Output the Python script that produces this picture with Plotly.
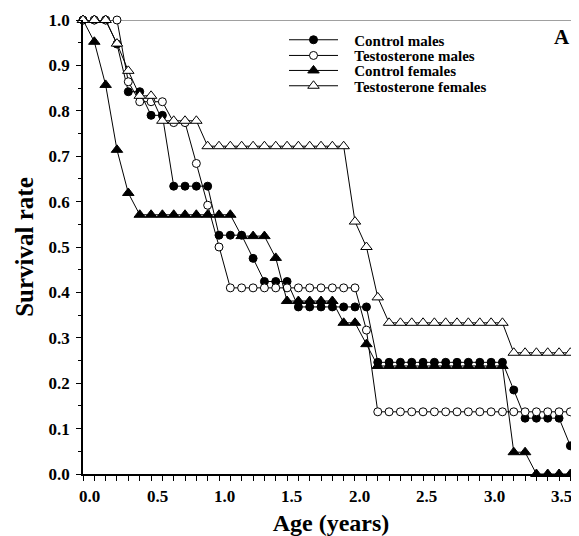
import plotly.graph_objects as go

# Age (years) of each monthly census
ages = [-0.050, 0.034, 0.118, 0.202, 0.286, 0.371, 0.455, 0.539, 0.623, 0.707,
        0.791, 0.875, 0.959, 1.043, 1.127, 1.212, 1.296, 1.380, 1.464, 1.548,
        1.632, 1.716, 1.800, 1.884, 1.968, 2.053, 2.137, 2.221, 2.305, 2.389,
        2.473, 2.557, 2.641, 2.725, 2.809, 2.894, 2.978, 3.062, 3.146, 3.230,
        3.314, 3.398, 3.482, 3.566]

control_males = [1.0, 1.0, 1.0, 0.947, 0.842, 0.842, 0.790, 0.790, 0.634, 0.634,
                 0.634, 0.634, 0.526, 0.526, 0.526, 0.475, 0.424, 0.424, 0.424, 0.368,
                 0.368, 0.368, 0.368, 0.368, 0.368, 0.368, 0.246, 0.246, 0.246, 0.246,
                 0.246, 0.246, 0.246, 0.246, 0.246, 0.246, 0.246, 0.246, 0.185, 0.123,
                 0.123, 0.123, 0.123, 0.062]

testosterone_males = [1.0, 1.0, 1.0, 1.0, 0.864, 0.820, 0.820, 0.820, 0.774, 0.774,
                      0.684, 0.592, 0.500, 0.410, 0.410, 0.410, 0.410, 0.410, 0.410, 0.410,
                      0.410, 0.410, 0.410, 0.410, 0.410, 0.317, 0.137, 0.137, 0.137, 0.137,
                      0.137, 0.137, 0.137, 0.137, 0.137, 0.137, 0.137, 0.137, 0.137, 0.137,
                      0.137, 0.137, 0.137, 0.137]

control_females = [1.0, 0.952, 0.857, 0.714, 0.619, 0.571, 0.571, 0.571, 0.571, 0.571,
                   0.571, 0.571, 0.571, 0.571, 0.524, 0.524, 0.524, 0.476, 0.381, 0.381,
                   0.381, 0.381, 0.381, 0.333, 0.333, 0.286, 0.238, 0.238, 0.238, 0.238,
                   0.238, 0.238, 0.238, 0.238, 0.238, 0.238, 0.238, 0.238, 0.048, 0.048,
                   0.0, 0.0, 0.0, 0.0]

testosterone_females = [1.0, 1.0, 1.0, 0.948, 0.888, 0.833, 0.833, 0.778, 0.778, 0.778,
                        0.778, 0.722, 0.722, 0.722, 0.722, 0.722, 0.722, 0.722, 0.722, 0.722,
                        0.722, 0.722, 0.722, 0.722, 0.556, 0.500, 0.389, 0.333, 0.333, 0.333,
                        0.333, 0.333, 0.333, 0.333, 0.333, 0.333, 0.333, 0.333, 0.267, 0.267,
                        0.267, 0.267, 0.267, 0.267]

series_names = ["Control males", "Testosterone males", "Control females", "Testosterone females"]
series_values = [control_males, testosterone_males, control_females, testosterone_females]
x_ticks = [0.0, 0.5, 1.0, 1.5, 2.0, 2.5, 3.0, 3.5]
x_tick_labels = ["0.0", "0.5", "1.0", "1.5", "2.0", "2.5", "3.0", "3.5"]

FONT = "Liberation Serif"
OFF = 8  # page body margin of the browser
W, H = 579 - OFF, 536 - OFF
ML, MR, MT, MB = 83 - OFF, 0, 20 - OFF, 62
PW, PH = W - ML - MR, H - MT - MB
TICKFONT = dict(family=FONT, size=17, color="black", weight="bold")

styles = [
    dict(symbol="circle", size=8, color="black"),
    dict(symbol="circle", size=8, color="white"),
    dict(symbol="triangle-up", size=10, color="black"),
    dict(symbol="triangle-up", size=10, color="white"),
]
legend_rows_px = [40, 55.7, 70.7, 86]
legend_ids = ["legend", "legend2", "legend3", "legend4"]
PAD = "\u00a0\u00a0\u00a0"

fig = go.Figure()
for name, vals, st, lid in zip(series_names, series_values, styles, legend_ids):
    fig.add_trace(go.Scatter(
        x=ages, y=vals, name=PAD + name, mode="lines+markers",
        line=dict(color="black", width=1),
        marker=dict(symbol=st["symbol"], size=st["size"], color=st["color"],
                    line=dict(color="black", width=1)),
        cliponaxis=False, legend=lid,
    ))

legend_common = dict(
    xref="paper", yref="paper", xanchor="left", yanchor="middle",
    bgcolor="rgba(0,0,0,0)", borderwidth=0, itemwidth=49,
    font=dict(family=FONT, size=15, color="black", weight="bold"),
)
layout_legends = {}
for lid, py in zip(legend_ids, legend_rows_px):
    layout_legends[lid] = dict(legend_common, x=(284 - 83) / PW,
                               y=(536 - MB - py) / PH)

annotations = [dict(text="A", xref="paper", yref="paper",
                    x=(561.7 - 83) / PW, y=(536 - MB - 36.7) / PH,
                    xanchor="center", yanchor="middle", showarrow=False,
                    font=dict(family=FONT, size=21, color="black", weight="bold"))]
# year labels under the monthly tick marks
for v, lab in zip(x_ticks, x_tick_labels):
    annotations.append(dict(text=lab, x=v, xref="x", y=0, yref="paper",
                            yshift=-22, xanchor="center", yanchor="middle",
                            showarrow=False, font=TICKFONT))

fig.update_layout(
    width=W, height=H,
    margin=dict(l=ML, r=MR, t=MT, b=MB),
    plot_bgcolor="white", paper_bgcolor="white",
    showlegend=True,
    font=dict(family=FONT, color="black"),
    xaxis=dict(
        range=[-0.05, 3.63], showline=True, linecolor="black", linewidth=1.5,
        showgrid=False, zeroline=False,
        tickmode="array", tickvals=ages, ticktext=[""] * len(ages),
        ticks="outside", ticklen=5, tickwidth=1.2, tickcolor="black",
        showticklabels=True,
        title=dict(text="Age (years)", standoff=33,
                   font=dict(family=FONT, size=24, color="black", weight="bold")),
    ),
    yaxis=dict(
        range=[0, 1], showline=True, linecolor="black", linewidth=1.5,
        showgrid=False, zeroline=False,
        tick0=0, dtick=0.1, tickformat=".1f",
        ticks="outside", ticklen=5, tickwidth=1.2, tickcolor="black",
        ticklabelstandoff=3,
        tickfont=TICKFONT,
        minor=dict(ticks="outside", dtick=0.05, ticklen=3, tickwidth=1,
                   tickcolor="black", showgrid=False),
        title=dict(text="Survival rate", standoff=8,
                   font=dict(family=FONT, size=25, color="black", weight="bold")),
    ),
    shapes=[dict(type="line", xref="paper", x0=0, x1=1, yref="y", y0=1, y1=1,
                 line=dict(color="#808080", width=1.5), layer="below")],
    annotations=annotations,
    **layout_legends,
)

fig.write_html("out.html")
